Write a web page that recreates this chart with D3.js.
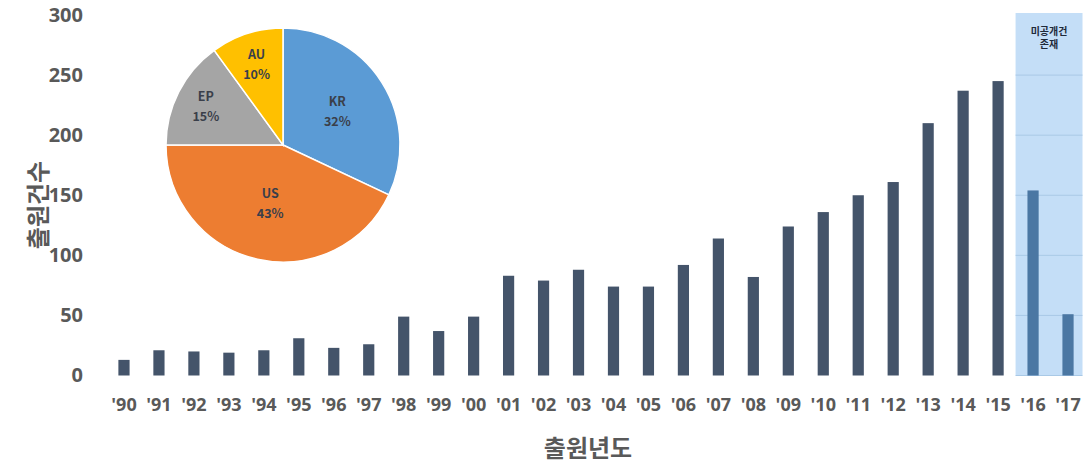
<!DOCTYPE html>
<html>
<head>
<meta charset="utf-8">
<script src="https://cdn.jsdelivr.net/npm/d3@7"></script>
<style>
  html, body { margin: 0; padding: 0; background: #ffffff; }
  svg { display: block; }
  text { font-family: "Noto Sans CJK KR", "Noto Sans", sans-serif; }
</style>
</head>
<body>
<svg id="chart" width="1088" height="466"></svg>
<script>
// Filing years and yearly application counts
const years = ["'90","'91","'92","'93","'94","'95","'96","'97","'98","'99","'00","'01","'02","'03","'04","'05","'06","'07","'08","'09","'10","'11","'12","'13","'14","'15","'16","'17"];
const counts = [13, 21, 20, 19, 21, 31, 23, 26, 49, 37, 49, 83, 79, 88, 74, 74, 92, 114, 82, 124, 136, 150, 161, 210, 237, 245, 154, 51];
// Years that still contain unpublished applications
const unpublishedYears = ["'16", "'17"];
const yTicks = [0, 50, 100, 150, 200, 250, 300];

// Share by filing office
const offices = ["KR", "US", "EP", "AU"];
const officeShares = [32, 43, 15, 10];
const officeColors = ["#5b9bd5", "#ed7d31", "#a5a5a5", "#ffc000"];

const svg = d3.select("#chart");
const textGray = "#595959";

const x = d3.scaleBand()
  .domain(years)
  .range([106.5, 1085.5])
  .paddingInner(0.68)
  .paddingOuter(0.34);

const y = d3.scaleLinear()
  .domain([0, 300])
  .range([375.5, 15]);

// Shaded band for years with unpublished applications
const step = x.step();
const shadeX0 = x(unpublishedYears[0]) + x.bandwidth() / 2 - step / 2;
const shadeX1 = x(unpublishedYears[unpublishedYears.length - 1]) + x.bandwidth() / 2 + step / 2 - 3;
svg.append("rect")
  .attr("x", shadeX0)
  .attr("y", y(300) - 2)
  .attr("width", shadeX1 - shadeX0)
  .attr("height", y(0) - y(300) + 2)
  .attr("fill", "#c4def7");

// Gridlines visible inside the shaded band
svg.append("g")
  .selectAll("line")
  .data(yTicks.slice(0, -1))
  .join("line")
  .attr("x1", shadeX0)
  .attr("x2", shadeX1)
  .attr("y1", d => y(d))
  .attr("y2", d => y(d))
  .attr("stroke", "#a9c9e6")
  .attr("stroke-width", 1);

svg.append("g")
  .attr("font-size", 10)
  .attr("font-weight", 700)
  .attr("fill", "#1f2a3a")
  .attr("text-anchor", "middle")
  .selectAll("text")
  .data(["미공개건", "존재"])
  .join("text")
  .attr("x", (shadeX0 + shadeX1) / 2)
  .attr("y", (d, i) => 30 + i * 13)
  .attr("dominant-baseline", "central")
  .text(d => d);

// Bars
svg.append("g")
  .selectAll("rect")
  .data(years.map((yr, i) => ({ yr, v: counts[i] })))
  .join("rect")
  .attr("x", d => x(d.yr))
  .attr("y", d => y(d.v))
  .attr("width", x.bandwidth())
  .attr("height", d => y(0) - y(d.v))
  .attr("fill", d => unpublishedYears.includes(d.yr) ? "#4b77a3" : "#44546a");

// Y axis (labels only)
const yAxis = d3.axisLeft(y).tickValues(yTicks).tickSize(0).tickPadding(0);
const yG = svg.append("g")
  .attr("transform", "translate(83,0)")
  .call(yAxis);
yG.select(".domain").remove();
yG.selectAll("text")
  .attr("font-size", 20)
  .attr("font-weight", 700)
  .attr("fill", textGray)
  .style("font-family", "'Open Sans', 'Noto Sans', sans-serif");

// X axis (labels only)
const xAxis = d3.axisBottom(x).tickSize(0).tickPadding(0);
const xG = svg.append("g")
  .attr("transform", "translate(0,398)")
  .call(xAxis);
xG.select(".domain").remove();
xG.selectAll("text")
  .attr("font-size", 18)
  .attr("font-weight", 700)
  .attr("fill", textGray)
  .style("font-family", "'Open Sans', 'Noto Sans', sans-serif");

// Axis titles
svg.append("text")
  .attr("transform", "translate(36,205) rotate(-90)")
  .attr("text-anchor", "middle")
  .attr("dominant-baseline", "central")
  .attr("font-size", 24)
  .attr("font-weight", 700)
  .attr("fill", textGray)
  .text("출원건수");

svg.append("text")
  .attr("x", 588)
  .attr("y", 446)
  .attr("text-anchor", "middle")
  .attr("dominant-baseline", "central")
  .attr("font-size", 24)
  .attr("font-weight", 700)
  .attr("fill", textGray)
  .text("출원년도");

// Office share pie
const pieData = offices.map((o, i) => ({ name: o, value: officeShares[i], color: officeColors[i] }));
const pie = d3.pie().value(d => d.value).sort(null);
const radius = 117;
// label distance from centre, as a fraction of the radius, per slice
const labelRadius = { KR: 0.55, US: 0.5, EP: 0.74, AU: 0.73 };
const arc = d3.arc().innerRadius(0).outerRadius(radius);

const pieG = svg.append("g").attr("transform", "translate(283,145)");
const arcs = pie(pieData);
pieG.selectAll("path")
  .data(arcs)
  .join("path")
  .attr("d", arc)
  .attr("fill", d => d.data.color)
  .attr("stroke", "#ffffff")
  .attr("stroke-width", 1.5);

const lbl = pieG.selectAll("g.lbl")
  .data(arcs)
  .join("g")
  .attr("class", "lbl")
  .attr("transform", d => {
    const r = radius * labelRadius[d.data.name];
    return `translate(${d3.arc().innerRadius(r).outerRadius(r).centroid(d)})`;
  })
  .attr("text-anchor", "middle")
  .attr("font-size", 12.5)
  .attr("font-weight", 700)
  .attr("fill", "#3a3f4a");
lbl.append("text").attr("y", -10).attr("dominant-baseline", "central").text(d => d.data.name);
lbl.append("text").attr("y", 10).attr("dominant-baseline", "central").text(d => d.data.value + "%");
</script>
</body>
</html>
